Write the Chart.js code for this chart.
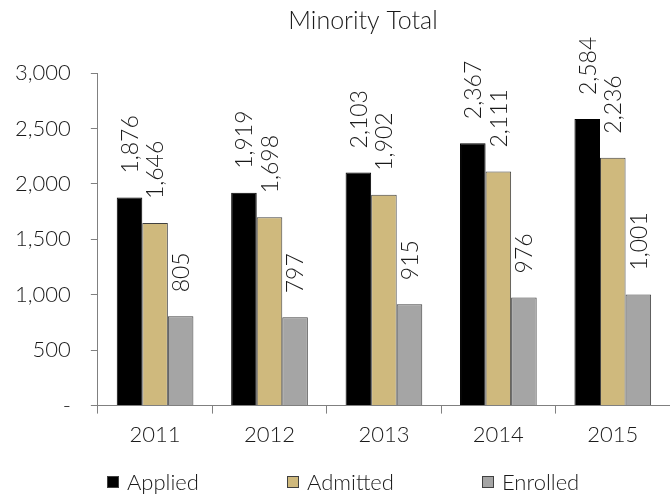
<!DOCTYPE html>
<html lang="en">
<head>
<meta charset="UTF-8">
<title>Minority Total</title>
<style>
    html, body { margin: 0; padding: 0; background: #fff; }
    #wrap { width: 670px; height: 498px; }
</style>
</head>
<body>
<div id="wrap"><canvas id="chart" width="670" height="498"></canvas></div>
<script src="https://cdn.jsdelivr.net/npm/chart.js"></script>
<script>
    // data
    const years = ['2011', '2012', '2013', '2014', '2015'];
    const applied = [1876, 1919, 2103, 2367, 2584];
    const admitted = [1646, 1698, 1902, 2111, 2236];
    const enrolled = [805, 797, 915, 976, 1001];
    const yTicks = [0, 500, 1000, 1500, 2000, 2500, 3000];

    const FONT = 'Lato, sans-serif';
    const W = '300';
    const TXT = '#1a1a1a';

    const fmt = v => v === 0 ? '-' : v.toLocaleString('en-US');

    // rotated value labels above each bar
    const barLabels = {
        id: 'barLabels',
        afterDatasetsDraw(chart) {
            const ctx = chart.ctx;
            ctx.save();
            ctx.font = W + ' 23px ' + FONT;
            ctx.fillStyle = TXT;
            ctx.textAlign = 'left';
            ctx.textBaseline = 'middle';
            chart.data.datasets.forEach((ds, i) => {
                chart.getDatasetMeta(i).data.forEach((bar, j) => {
                    ctx.save();
                    ctx.translate(bar.x + 1, bar.y - 24);
                    ctx.rotate(-Math.PI / 2);
                    ctx.fillText(fmt(ds.data[j]), 0, 0);
                    ctx.restore();
                });
            });
            ctx.restore();
        }
    };

    // title + legend drawn by hand to get the spacing of the original
    const decor = {
        id: 'decor',
        afterDraw(chart) {
            const ctx = chart.ctx;
            ctx.save();
            ctx.fillStyle = TXT;
            ctx.font = W + ' 25px ' + FONT;
            ctx.textAlign = 'center';
            ctx.textBaseline = 'middle';
            ctx.fillText('Minority Total', 363, 21);

            ctx.font = W + ' 22px ' + FONT;
            ctx.textAlign = 'left';
            const box = 12, boxGap = 8;
            const starts = [107, 287, 482];
            const y = 482;
            chart.data.datasets.forEach((ds, i) => {
                const x = starts[i];
                ctx.fillStyle = ds.backgroundColor;
                ctx.fillRect(x, y - box / 2, box, box);
                ctx.strokeStyle = '#404040';
                ctx.lineWidth = 1;
                ctx.strokeRect(x + 0.5, y - box / 2 + 0.5, box - 1, box - 1);
                ctx.fillStyle = TXT;
                ctx.fillText(ds.label, x + box + boxGap, y + 1);
            });
            ctx.restore();
        }
    };

    new Chart(document.getElementById('chart'), {
        type: 'bar',
        data: {
            labels: years,
            datasets: [
                { label: 'Applied', data: applied, backgroundColor: '#000000', borderColor: '#000000', borderWidth: 1 },
                { label: 'Admitted', data: admitted, backgroundColor: '#cfb97d', borderColor: '#404040', borderWidth: 1 },
                { label: 'Enrolled', data: enrolled, backgroundColor: '#a5a5a5', borderColor: '#404040', borderWidth: 1 }
            ]
        },
        options: {
            responsive: false,
            animation: false,
            layout: { padding: { top: 73, right: 0, bottom: 42, left: -5 } },
            datasets: { bar: { categoryPercentage: 0.67, barPercentage: 1 } },
            plugins: {
                legend: { display: false },
                title: { display: false },
                tooltip: { enabled: false }
            },
            scales: {
                x: {
                    grid: { offset: true, drawOnChartArea: false, tickLength: 8, color: '#808080' },
                    border: { color: '#808080' },
                    ticks: { color: TXT, font: { family: FONT, size: 22, weight: W }, padding: 8 }
                },
                y: {
                    min: 0,
                    max: 3000,
                    afterBuildTicks: axis => { axis.ticks = yTicks.map(v => ({ value: v })); },
                    grid: { drawOnChartArea: false, tickLength: 7, color: '#808080' },
                    border: { color: '#808080' },
                    ticks: { color: TXT, font: { family: FONT, size: 22, weight: W }, padding: 20, callback: v => fmt(v) }
                }
            }
        },
        plugins: [barLabels, decor]
    });
</script>
</body>
</html>
